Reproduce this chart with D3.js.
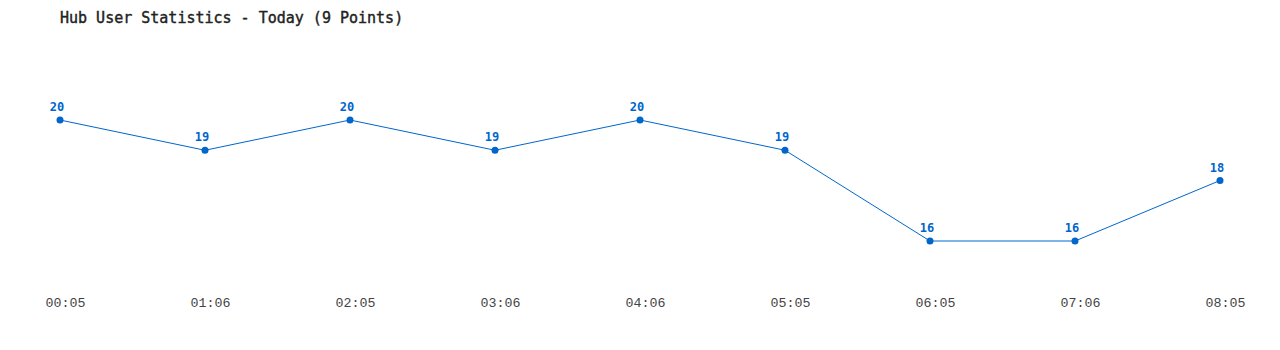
<!DOCTYPE html>
<html><head><meta charset="utf-8">
<script src="https://cdn.jsdelivr.net/npm/d3@7"></script>
<style>body{margin:0;background:#fff}svg{display:block}</style>
</head><body>
<svg id="c" width="1280" height="350"></svg>
<script>
const title = "Hub User Statistics - Today (9 Points)";
const times = ["00:05","01:06","02:05","03:06","04:06","05:05","06:05","07:06","08:05"];
const users = [20,19,20,19,20,19,16,16,18];

const svg = d3.select("#c");
const x = d3.scalePoint().domain(times).range([60,1220]);
const y = d3.scaleLinear().domain([16,20]).range([241,120]);
const blue = "#0066cc";

svg.append("text").attr("x",60).attr("y",23)
  .attr("font-family","DejaVu Sans Mono").attr("font-size",15)
  .attr("fill","#222").attr("stroke","#222").attr("stroke-width",0.4).text(title);

const xAxis = d3.axisBottom(x).tickSize(0).tickPadding(0);
const gx = svg.append("g").attr("transform","translate(5,307)").call(xAxis);
gx.select(".domain").remove();
gx.selectAll("text").attr("dy",0).attr("font-family","Liberation Mono").attr("font-size",13.3).attr("fill","#444");

const data = times.map((t,i)=>({t,v:users[i]}));
svg.append("path").datum(data)
  .attr("fill","none").attr("stroke",blue).attr("stroke-width",1)
  .attr("d", d3.line().x(d=>x(d.t)).y(d=>y(d.v)));
svg.selectAll("circle.p").data(data).join("circle")
  .attr("cx",d=>x(d.t)).attr("cy",d=>y(d.v)).attr("r",3.5).attr("fill",blue);
svg.selectAll("text.v").data(data).join("text").attr("class","v")
  .attr("x",d=>x(d.t)-3).attr("y",d=>y(d.v)-9)
  .attr("text-anchor","middle").attr("font-family","DejaVu Sans Mono")
  .attr("font-weight","bold").attr("font-size",12).attr("fill",blue)
  .text(d=>d.v);
</script>
</body></html>
